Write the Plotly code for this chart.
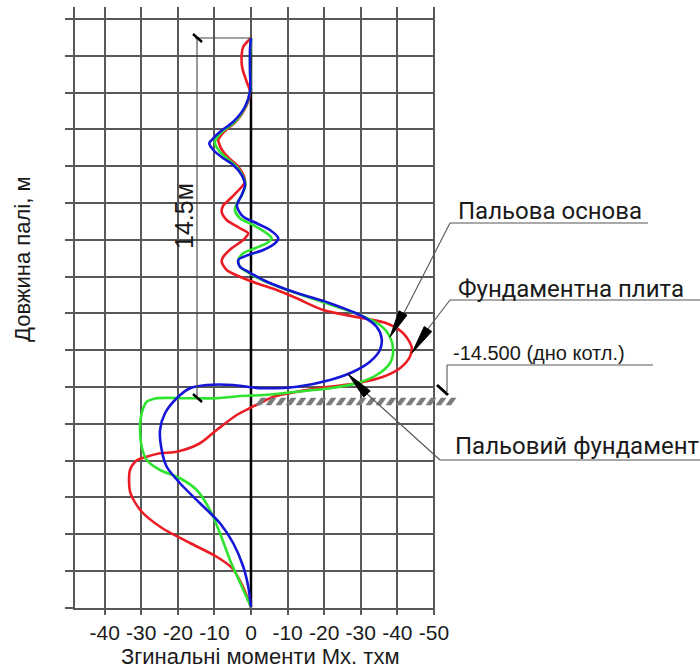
import plotly.graph_objects as go

# ---------------- data (bending moment x, depth in m from pile head) ----------------
blue_x = [0, -0.27, -0.27, -0.27, -1.64, -4.84, -8.47, -10.74, -11.39, -10.30, -7.57, -4.84,
          -2.54, -1.64, -2.54, -3.83, -3.47, -2.10, 1.56, 5.19, 7.46, 6.56, 3.36, -0.74,
          -3.47, -3.01, -0.74, 3.36, 8.83, 13.39, 21.58, 30.68, 34.34, 35.71, 35.25, 32.51,
          27.95, 21.58, 12.49, 3.36, -0.27, -4.84, -12.10, -16.67, -20.30, -23.50, -24.86,
          -24.40, -23.03, -19.40, -13.93, -8.47, -4.84, -2.10, -0.74, 0]
blue_d = [0, 0.48, 1.28, 2.15, 2.75, 3.35, 3.75, 4.08, 4.21, 4.48, 4.81, 5.08,
          5.48, 5.88, 6.28, 6.68, 6.88, 7.15, 7.41, 7.68, 8.01, 8.21, 8.48, 8.68,
          8.88, 9.15, 9.35, 9.68, 10.01, 10.24, 10.61, 11.15, 11.55, 12.01, 12.48, 12.95,
          13.35, 13.68, 13.95, 14.01, 13.97, 13.88, 13.88, 14.01, 14.41, 15.01, 15.68,
          16.48, 17.15, 17.81, 18.61, 19.41, 20.21, 21.15, 21.95, 22.76]

green_x = [0, -0.27, -0.27, -1.50, -4.37, -7.92, -9.70, -9.84, -8.88, -6.64, -4.37, -2.32,
           -1.50, -2.46, -3.83, -4.37, -3.01, 0.63, 4.29, 5.66, 4.29, 1.09, -2.10, -3.47,
           -3.01, -1.17, 3.01, 10.66, 20.68, 29.78, 35.25, 37.98, 38.88, 37.98, 34.34, 28.88,
           21.58, 12.49, 3.36, -3.01, -9.37, -18.50, -25.77, -28.50, -29.86, -30.33, -29.86,
           -28.50, -24.86, -19.40, -14.84, -11.20, -8.47, -5.74, -2.92, 0]
green_d = [0, 0.88, 2.15, 2.75, 3.35, 3.75, 4.08, 4.21, 4.48, 4.81, 5.08, 5.48,
           5.88, 6.28, 6.60, 6.88, 7.21, 7.48, 7.81, 8.01, 8.21, 8.41, 8.61, 8.88,
           9.15, 9.35, 9.68, 10.12, 10.61, 11.08, 11.48, 11.95, 12.48, 13.01, 13.48, 13.81,
           14.01, 14.15, 14.28, 14.32, 14.41, 14.41, 14.41, 14.55, 15.01, 15.68, 16.35,
           16.88, 17.28, 17.61, 18.08, 18.88, 19.81, 20.88, 21.81, 22.76]

red_x = [0, -2.10, -2.54, -2.38, -1.17, -0.27, -1.37, -4.10, -7.38, -8.93, -8.74, -7.92,
         -6.01, -3.83, -2.05, -1.64, -5.19, -7.65, -8.01, -6.64, -3.01, -0.74, -2.10, -5.27,
         -7.57, -8.01, -6.64, -3.01, 1.56, 7.02, 12.49, 19.75, 30.68, 37.08, 41.61, 43.91,
         43.44, 40.71, 36.15, 28.88, 21.58, 12.49, 6.09, 2.46, -0.27, -3.91, -9.37, -13.93,
         -20.30, -24.86, -28.50, -31.42, -33.06, -33.33, -32.92, -30.05, -24.32, -16.67,
         -9.37, -5.19, -2.19, 0]
red_d = [0, 0.35, 0.68, 1.20, 1.75, 2.15, 2.75, 3.35, 3.75, 4.08, 4.21, 4.48,
         4.81, 5.08, 5.48, 5.76, 6.36, 6.72, 6.95, 7.28, 7.61, 7.81, 8.08, 8.41,
         8.75, 8.95, 9.28, 9.55, 9.81, 10.08, 10.41, 10.88, 11.21, 11.41, 11.81, 12.35,
         12.75, 13.21, 13.55, 13.81, 13.95, 14.15, 14.35, 14.61, 14.80, 15.08, 15.68, 16.21,
         16.55, 16.61, 16.75, 16.92, 17.28, 17.68, 18.21, 18.92, 19.60, 20.20,
         20.75, 21.20, 21.95, 22.76]

pile_x = [0, 0]
pile_d = [0, 22.76]

tick_vals = [-40, -30, -20, -10, 0, 10, 20, 30, 40, 50]
tick_text = ["-40", "-30", "-20", "-10", "0", "-10", "-20", "-30", "-40", "-50"]

x_title = "Згинальні моменти Мх. тхм"
y_title = "Довжина палі, м"
dim_text = "14.5м"
labels = ["Пальова основа", "Фундаментна плита", "-14.500 (дно котл.)", "Пальовий фундамент"]

# ---------------- layout helpers (pixel -> paper) ----------------
L, R, T, B = 75, 435, 7, 608
def px(x):
    return (x - L) / (R - L)
def py(y):
    return (B - y) / (B - T)

fig = go.Figure()
fig.add_trace(go.Scatter(x=pile_x, y=pile_d, mode="lines",
                         line=dict(color="black", width=2.5), hoverinfo="skip"))
for xs, ds, col in [(red_x, red_d, "#ec1c24"), (green_x, green_d, "#2fe42f"),
                    (blue_x, blue_d, "#1616d8")]:
    fig.add_trace(go.Scatter(x=xs, y=ds, mode="lines",
                             line=dict(color=col, width=2.6, shape="spline", smoothing=0.8)))

shapes = []
def line(x0, y0, x1, y1, color="#333", width=1.2):
    shapes.append(dict(type="line", xref="paper", yref="paper",
                       x0=px(x0), y0=py(y0), x1=px(x1), y1=py(y1),
                       line=dict(color=color, width=width), layer="above"))

def wedge(tip, base, hw=4.5):
    tx, ty = tip
    bx, by = base
    dx, dy = bx - tx, by - ty
    n = (dx * dx + dy * dy) ** 0.5
    nx, ny = -dy / n * hw, dx / n * hw
    p = "M {:.5f},{:.5f} L {:.5f},{:.5f} L {:.5f},{:.5f} Z".format(
        px(tx), py(ty), px(bx + nx), py(by + ny), px(bx - nx), py(by - ny))
    shapes.append(dict(type="path", xref="paper", yref="paper", path=p,
                       fillcolor="black", line=dict(color="black", width=1), layer="above"))

# dimension 14.5 m
line(197, 38, 197, 398, "#444", 1.1)
line(195, 38, 251, 38, "#444", 1.1)
line(193, 34, 202, 42, "black", 2.5)
line(193, 394, 202, 402, "black", 2.5)

# ground hatch
hp = []
for x0 in range(256, 456, 10):
    hp.append("M {:.5f},{:.5f} L {:.5f},{:.5f} L {:.5f},{:.5f} L {:.5f},{:.5f} Z".format(
        px(x0), py(405), px(x0 + 5), py(405), px(x0 + 10), py(398), px(x0 + 5), py(398)))
shapes.append(dict(type="path", xref="paper", yref="paper", path=" ".join(hp),
                   fillcolor="#7a7a7a", line=dict(color="#7a7a7a", width=0.5), layer="above"))

# leaders
line(450, 223, 648, 223, "#555", 1.1)
line(450, 223, 403, 315, "#555", 1.1)
wedge((390, 337), (403, 313))

line(450, 300, 700, 300, "#555", 1.1)
line(450, 300, 427, 330, "#555", 1.1)
wedge((412, 353), (428, 329))

line(447, 365, 653, 365, "#555", 1.1)
line(447, 365, 447, 392, "#555", 1.1)
line(437, 385, 448, 395, "black", 3)

line(440, 460, 700, 460, "#555", 1.1)
line(440, 460, 366, 393, "#555", 1.1)
wedge((348, 374), (367, 394))

annotations = [
    dict(text=x_title, x=px(260.5), y=py(656), xref="paper", yref="paper", showarrow=False,
         font=dict(family="Liberation Sans", size=22, color="#1a1a1a"),
         xanchor="center", yanchor="middle"),
    dict(text=y_title, x=px(22), y=py(259), xref="paper", yref="paper", showarrow=False,
         textangle=-90, font=dict(family="Liberation Sans", size=22, color="#1a1a1a"),
         xanchor="center", yanchor="middle"),
    dict(text=dim_text, x=px(184), y=py(216), xref="paper", yref="paper", showarrow=False,
         textangle=-90, font=dict(family="Liberation Sans", size=25, color="#1a1a1a"),
         xanchor="center", yanchor="middle"),
]
label_pos = [(456, 211, 24, "Roboto"), (456, 289, 24, "Roboto"),
             (451, 353, 20, "Liberation Sans"), (453, 446, 24, "Roboto")]
for t, (x, y, s, f) in zip(labels, label_pos):
    annotations.append(dict(text=t, x=px(x), y=py(y), xref="paper", yref="paper",
                            showarrow=False, xanchor="left", yanchor="middle",
                            font=dict(family=f, size=s, color="#1a1a1a")))

fig.update_layout(
    width=700, height=670, autosize=False,
    margin=dict(l=L, r=700 - R, t=T, b=670 - B, pad=0),
    paper_bgcolor="white", plot_bgcolor="white", showlegend=False,
    shapes=shapes, annotations=annotations,
    xaxis=dict(range=[-48.1, 50.3], tickmode="array", tickvals=tick_vals, ticktext=tick_text,
               showgrid=True, gridcolor="#585858", gridwidth=1.5, zeroline=False,
               showline=True, linecolor="#585858", linewidth=1.5,
               ticks="outside", ticklen=5, tickcolor="#585858", tickwidth=1.5,
               tickfont=dict(family="Liberation Sans", size=21, color="#1a1a1a")),
    yaxis=dict(range=[22.8, -1.24], tickmode="linear", tick0=-0.76, dtick=1.472,
               showticklabels=False, showgrid=True, gridcolor="#585858", gridwidth=1.5,
               zeroline=False, showline=True, linecolor="#585858", linewidth=1.5,
               ticks="outside", ticklen=8, tickcolor="#585858", tickwidth=1.5),
)

fig.write_html("out.html")
